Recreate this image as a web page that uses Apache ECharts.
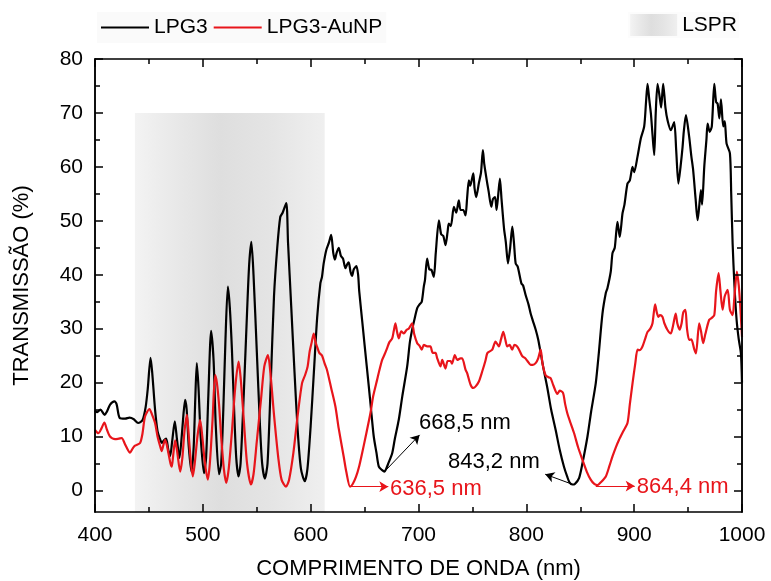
<!DOCTYPE html>
<html>
<head>
<meta charset="utf-8">
<script src="https://cdn.jsdelivr.net/npm/echarts@6/dist/echarts.min.js"></script>
<style>
html,body{margin:0;padding:0;background:#fff}
#chart{width:771px;height:581px}
</style>
</head>
<body>
<div id="chart"></div>
<script>
// LPG3 (wavelength nm, transmission %)
var lpg3 = [
 [400,14.8],[402,14.5],[405,15.0],[409,14.0],[411,14.6],[414,15.9],[418,16.5],[420,16.0],[423,13.4],[428,13.3],
 [432,13.5],[436,13.2],[440,12.5],[444,13.0],[447,15.5],[449,19],[451.5,24.6],[453,22],[455.7,15],[458,11],
 [460.5,9.4],[462,8.8],[464,9.3],[466,9.6],[468,7.5],[469.7,6.4],[471.5,9],[474,12.8],[476,9.5],[478.3,6.0],
 [480,9],[482,14],[483.6,16.8],[485,15],[487,8],[489.5,3.4],[491.5,8],[493,17],[494.4,23.6],[496,19],
 [498,10],[501,3.2],[503,6],[505,17],[507.7,29.6],[510,24],[512,12],[515,3.0],[517,5],[519,15],
 [521,28],[523.2,37.8],[525,34],[527,26],[529,15],[531,6],[533.1,2.6],[535,5],[538,18],[541,33],
 [543,42],[545,46.1],[547,40],[550,26],[553,12],[555,5],[557.5,2.2],[560,5],[563,20],[566,36],
 [569,45],[571.8,50.7],[574,51.5],[577.4,53.3],[579,46],[582,34],[585,22],[588,11],[591,4],[594.5,1.7],
 [597,4],[600,12],[603,22],[606,32],[609,38.4],[610.5,39.6],[612,42],[614.5,44.6],[617,46],[619,47.4],
 [621,44],[622.5,42.8],[624,44],[626,45],[628,43.5],[630,43],[632.2,41.2],[634,42],[635.3,42.3],[637,40.5],
 [638.4,39.8],[640,41],[642.4,41.6],[644,40],[645,37],[647.7,31.6],[650,27],[653.9,19.3],[656,15],[658.5,10.0],
 [661,7],[663.2,4.4],[666,3.8],[668.5,3.5],[670,4],[672,5],[675.6,6.9],[678,9.5],[681.7,13.1],[685,17.5],
 [689.5,23.0],[692,27.5],[694.1,29.8],[696,31.5],[698.8,33.8],[701,34.5],[703,35],[704.9,37.8],[706,39],[708,43],
 [710,41],[712,40.9],[714.2,39.6],[716,44],[718.9,50.1],[721,47.5],[723,47.2],[725.1,45.5],[727,48],[728.1,49.5],
 [730,49],[732.8,52.6],[735,51.5],[737.4,53.8],[739,52],[741.5,52.0],[743.6,51.0],[745,54],[746.7,57.5],[748,56.5],
 [750.8,58.8],[752,56],[753.5,54.4],[756,57],[758,59],[759.7,63.1],[761,60.5],[763.7,57],[765,55.5],[767.5,52.6],
 [769,54],[771,54.4],[772.4,52],[774,55],[775.5,57.8],[777,54],[779.3,48.6],[781,46],[783,42.1],[785,45],
 [787,48.9],[788.5,46],[790.1,42.1],[792,41.5],[795.4,38.4],[797,38],[799.4,36.2],[802,34.5],[804,32.8],[806,31.5],
 [808.7,29.8],[811,28],[813.3,25.5],[816,22.5],[819.5,19],[823,15],[827.2,11.2],[831,7.5],[834.9,4.4],[838,2.5],
 [840,1.5],[842.7,1.1],[845,1.2],[848.9,2.3],[852,5],[856.7,10],[860,14.5],[864.4,19.9],[867,25],[870.6,32.8],
 [873.7,36.6],[875.2,37.5],[878.3,40.6],[879.9,44.0],[882,45],[884.5,49.8],[886.6,47.0],[889.2,51.4],[891,53],[893.8,56.9],
 [896,57.5],[898.5,60.0],[900,59],[903.1,61.9],[906.2,65.3],[909.3,67.5],[911,72],[912.4,75.4],[914,72.5],[915.5,69.9],
 [917,66],[918.6,62.2],[920,70],[921.7,75.4],[923.6,73],[925,71],[926.9,75.4],[929,71],[931,68.6],[934,66.8],
 [937.1,68.3],[939,63],[941,56.9],[943,60],[944.9,63.7],[946,66.5],[948,69.6],[951,65.6],[953,62],[954.7,59.4],
 [957,54],[958.8,50.1],[960,52],[961.9,55.7],[963,53],[965,60],[967,65],[968.1,68],[970,66.5],[972,67.5],
 [974.3,75.4],[976,72],[977.4,71.7],[979,69],[980.5,72.5],[982.6,67.5],[984,68.5],[985.7,64.3],[988.8,62.5],[990,55],
 [991.3,45.8],[993,38],[995,31.6],[997,28],[999,25.4],[1000,20]
];

// LPG3-AuNP (wavelength nm, transmission %)
var lpg3Aunp = [
 [400,11.2],[403,10.6],[406,11.5],[408.7,12.6],[411,11.3],[413.9,10.0],[418.6,9.5],[422,9.6],[424.8,9.7],[428,8.5],
 [432.5,7.0],[435,7.8],[437.1,8.3],[441.8,8.8],[444,10.5],[446.4,13.7],[450.5,15.1],[453,14],[455.7,12.5],[458,10],
 [460.4,8.2],[461.9,7.3],[463.5,8.5],[465,9.4],[466.5,8.5],[468.1,6.9],[470,5],[471.2,4.4],[472.5,6.5],[474.3,9.3],
 [476,7.5],[479,3.5],[481,6],[483,11],[485.2,14.0],[487,10],[489,5],[490.7,2.6],[492.5,5],[495,10],
 [497.5,13.1],[499.5,10],[502,5],[504.6,2.0],[506.5,5],[509,13],[511.4,21.4],[513,20],[515,16],[517,10],
 [519.5,4],[521.7,1.4],[524,4],[527,11],[530,19],[533.1,23.9],[535,21],[538,13],[541,5],[544.6,1.1],
 [547,3],[550,9],[554,17],[557,23],[560.4,25.1],[563,21],[566,14],[570,6],[573,2],[577.1,0.7],
 [580,2],[584,7],[588,14],[592,19.9],[595,21.5],[597.2,23.0],[599,25.7],[601,27.5],[602.8,29.1],[604.5,27.5],
 [606,26.6],[608,25.5],[610.5,25],[613,23.5],[615.2,22.3],[619,19],[622.9,15.6],[626,11.5],[630.6,6.3],[633,3.5],
 [636.5,0.7],[639,1.2],[642,2.5],[645,4.5],[647.7,6.9],[651,10],[655.4,14.3],[658,17.5],[661.6,20.5],[664,22.5],
 [666.3,24.2],[668.5,25.2],[670.9,26.4],[673,27.5],[675.6,28.2],[677,29.5],[678.6,31.0],[680,29.5],[681.7,28.2],[684,29.5],
 [686.4,29.1],[689,29.8],[691,30],[694.1,31.0],[696,29],[698.8,27.3],[701,26.8],[703,26.1],[705,27],[708,26.7],
 [711,26.7],[713.2,25.5],[715.8,25.5],[717.2,24.6],[720.4,23.0],[722,24.2],[725,22.6],[727,24],[729.7,24],[731,23.5],
 [733.7,25.1],[736,24.2],[739,24.5],[740.5,24.5],[743.6,22.4],[745.2,21.7],[748.3,19.6],[750.8,19.0],[753,19.3],[756,20.2],
 [759,22],[762,24],[763.7,25.4],[765.3,25.7],[768.4,26.1],[771.4,27.6],[774.5,26.7],[776.5,28],[778.6,29.4],[780.5,28],
 [782.3,26.7],[784.5,27],[786.9,26.1],[789,27],[791.5,26.7],[793.5,26],[796.2,24.9],[799,24.5],[801,24],[804,23.3],
 [806,23.3],[808.6,23.6],[811,24.5],[813.3,26.1],[815,23.5],[818,21.3],[820.5,21],[822.6,20.8],[825,19.5],[828.8,17.9],
 [831,18.5],[834,18.1],[836,16],[838,14.3],[841,12.5],[844.3,10.6],[848,8],[852,5.7],[856,3.5],[859.7,2.0],
 [863,1.2],[866,1.0],[869,1.5],[873.7,2.6],[877,4.5],[879.9,6.3],[883,8],[886,9.4],[890,11],[893.8,12.5],
 [896,16],[898.5,19.9],[901,23.5],[903.1,26.1],[905,26],[907.7,26.7],[910,28],[912.4,29.4],[915,30],[917,31],
 [919.4,34.5],[921,33],[922.5,32.2],[924,32.5],[926.2,32.2],[928,31],[930.8,29.8],[933.9,29.1],[936,30.5],[938.5,32.8],
 [940,31],[942.2,29.8],[944,31],[945.5,33],[947.5,33.5],[949,30],[951,27.9],[953,28],[955.7,26.2],[957.3,25.4],
 [960.3,31],[962,29.5],[964,27.3],[966,29],[969.5,31.6],[972,32],[974.3,32.5],[976,37],[978.3,40.3],[980,37],
 [982,33.5],[984,36],[986.7,37.2],[988.8,33.5],[991.3,32.5],[993,36],[995.3,40.6],[997,38],[998.4,34.1],[1000,28.5]
];

var yMajorTicks = [0, 10, 20, 30, 40, 50, 60, 70, 80];
var yMinorTicks = [5, 15, 25, 35, 45, 55, 65, 75];
var lsprBand = [437, 613, 70];          // nm start, nm end, top %
var lpg3Minima = [[668.5, 3.5], [843.2, 1.1]];
var aunpMinima = [[636.5, 0.7], [864.4, 0.8]];

var FONT = 'Arial, "Liberation Sans", sans-serif';
var RED = '#e8151b';

var lsprFill = {
  type: 'linear', x: 0, y: 0, x2: 1, y2: 0,
  colorStops: [
    {offset: 0, color: '#f3f3f3'},
    {offset: 0.2, color: '#e9e9e9'},
    {offset: 0.45, color: '#dedede'},
    {offset: 0.7, color: '#e4e4e4'},
    {offset: 1, color: '#efefef'}
  ]
};

function xAx(pos, labels) {
  return {
    type: 'value', position: pos, min: 400, max: 1000, interval: 100, z: 5,
    axisLine: {show: true, onZero: false, lineStyle: {color: '#000', width: 1.5}},
    axisTick: {show: true, inside: true, length: 8, lineStyle: {color: '#000', width: 1.5}},
    minorTick: {show: true, splitNumber: 2, length: 5, lineStyle: {color: '#000', width: 1.5}},
    axisLabel: {show: labels, color: '#000', fontSize: 21, fontFamily: FONT, margin: 13,
                formatter: function (v) { return String(v); }},
    splitLine: {show: false},
    name: labels ? 'COMPRIMENTO DE ONDA (nm)' : '',
    nameLocation: 'middle', nameGap: 46,
    nameTextStyle: {color: '#000', fontSize: 22, fontFamily: FONT}
  };
}

function yAx(pos, ticks, len, labels, title) {
  return {
    type: 'value', position: pos, min: -4, max: 80, z: 5,
    axisLine: {show: true, onZero: false, lineStyle: {color: '#000', width: 1.5}},
    axisTick: {show: true, inside: true, length: len, customValues: ticks, lineStyle: {color: '#000', width: 1.5}},
    axisLabel: {show: labels, customValues: ticks, color: '#000', fontSize: 21, fontFamily: FONT, margin: 12},
    splitLine: {show: false},
    name: title ? 'TRANSMISSÃO (%)' : '',
    nameLocation: 'middle', nameGap: 62,
    nameTextStyle: {color: '#000', fontSize: 22, fontFamily: FONT}
  };
}

var option = {
  animation: false,
  backgroundColor: '#fff',
  textStyle: {fontFamily: FONT},
  grid: {left: 95, right: 29, top: 59, bottom: 69, containLabel: false, outerBoundsMode: 'none'},
  legend: [
    {
      left: 97, top: 12, padding: [5, 4, 5, 4],
      backgroundColor: '#fafafa',
      icon: 'rect', itemWidth: 48, itemHeight: 2, itemGap: 6,
      data: ['LPG3', 'LPG3-AuNP'],
      textStyle: {color: '#000', fontSize: 21, fontFamily: FONT}
    },
    {
      right: 32, top: 12, padding: [2, 2, 2, 2],
      backgroundColor: '#fcfcfc',
      itemWidth: 47, itemHeight: 22,
      data: [{name: 'LSPR', icon: 'rect', itemStyle: {color: lsprFill}}],
      textStyle: {color: '#000', fontSize: 21, fontFamily: FONT}
    }
  ],
  xAxis: [xAx('bottom', true), xAx('top', false)],
  yAxis: [
    yAx('left', yMajorTicks, 8, true, true),
    yAx('left', yMinorTicks, 5, false, false),
    yAx('right', yMajorTicks, 8, false, false),
    yAx('right', yMinorTicks, 5, false, false)
  ],
  series: [
    {
      name: 'LSPR', type: 'line', data: [], z: 1,
      itemStyle: {color: '#dddddd'},
      markArea: {
        silent: true,
        itemStyle: {color: lsprFill},
        data: [[{xAxis: lsprBand[0], yAxis: -4}, {xAxis: lsprBand[1], yAxis: lsprBand[2]}]]
      }
    },
    {
      name: 'LPG3', type: 'line', data: lpg3, showSymbol: false, symbol: 'none', smooth: 0.25,
      lineStyle: {color: '#000', width: 2.2}, itemStyle: {color: '#000'}, z: 3,
      markLine: {
        silent: true, symbol: ['none', 'arrow'], symbolSize: [8, 9],
        label: {show: false},
        lineStyle: {color: '#000', width: 1, type: 'solid'},
        data: [
          [{coord: lpg3Minima[0]}, {coord: [701, 10.3]}],
          [{coord: lpg3Minima[1]}, {coord: [817.5, 3.0]}]
        ]
      },
      markPoint: {
        silent: true, symbol: 'circle', symbolSize: 0,
        label: {show: true, position: 'right', distance: 0, formatter: '{b}', color: '#000', fontSize: 22, fontFamily: FONT},
        data: [
          {name: '668,5 nm', coord: [700.5, 12.6]},
          {name: '843,2 nm', coord: [727.4, 5.3]}
        ]
      }
    },
    {
      name: 'LPG3-AuNP', type: 'line', data: lpg3Aunp, showSymbol: false, symbol: 'none', smooth: 0.25,
      lineStyle: {color: RED, width: 2.2}, itemStyle: {color: RED}, z: 4,
      markLine: {
        silent: true, symbol: ['none', 'arrow'], symbolSize: [8, 9],
        label: {show: false},
        lineStyle: {color: RED, width: 1, type: 'solid'},
        data: [
          [{coord: aunpMinima[0]}, {coord: [672, aunpMinima[0][1]]}],
          [{coord: aunpMinima[1]}, {coord: [900.5, aunpMinima[1][1]]}]
        ]
      },
      markPoint: {
        silent: true, symbol: 'circle', symbolSize: 0,
        label: {show: true, position: 'right', distance: 0, formatter: '{b}', color: RED, fontSize: 22, fontFamily: FONT},
        data: [
          {name: '636,5 nm', coord: [673.6, 0.3]},
          {name: '864,4 nm', coord: [902.5, 0.7]}
        ]
      }
    }
  ]
};

var chart = echarts.init(document.getElementById('chart'), null, {renderer: 'canvas'});
chart.setOption(option);
</script>
</body>
</html>
